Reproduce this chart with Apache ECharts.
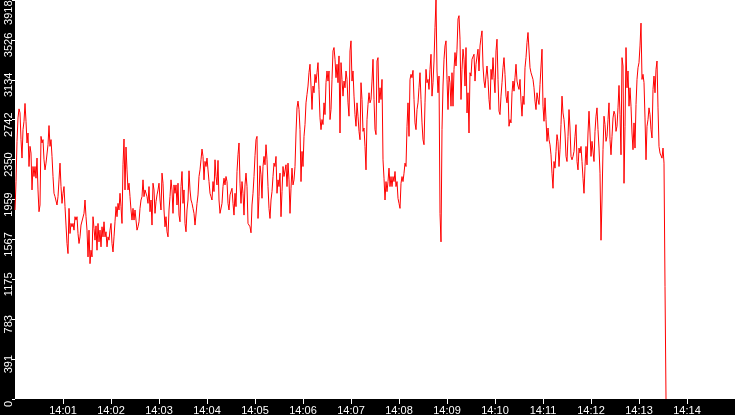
<!DOCTYPE html>
<html>
<head>
<meta charset="utf-8">
<script src="https://cdn.jsdelivr.net/npm/echarts@6/dist/echarts.min.js"></script>
<style>
    html, body { margin: 0; padding: 0; background: #000; }
    #chart { width: 735px; height: 415px; }
</style>
</head>
<body>
<div id="chart"></div>
<script>
// one sample every 1.25 s, starting 14:00:00
const stepSec = 1.25;

// 14:00:00 - 14:01:41
const part1 = [1856,2135,2530,2760,2849,2810,2547,2366,2645,2727,
    2902,2727,2514,2612,2283,2481,2415,2053,2283,2185,
    2283,2168,2366,2053,1839,1905,2579,2514,2547,2349,
    2250,2316,2300,2497,2685,2481,2547,2382,2185,2020,
    1987,1971,1905,1987,2152,2316,2086,1921,2020,2086,
    1889,1708,1527,1428,1872,1625,1724,1691,1724,1658,
    1790,1757,1790,1625,1527,1592,1708,1691,1724,1823,
    1954,1790,1658,1395,1658,1329,1461,1395,1790,1675,
    1560,1700];
// 14:01:42 - 14:03:24
const part2 = [1461,1724,1543,1658,1494,1691,1592,1740,1592,1642,
    1494,1592,1560,1658,1724,1527,1444,1592,1740,1889,
    1790,1921,1856,2020,1889,1724,2300,2553,2053,2474,
    2250,2053,2119,1987,1856,1757,1872,1757,1856,1757,
    1658,1691,1740,1872,1954,1987,2152,1987,2053,2069,
    1987,1921,2086,1839,1954,1708,2119,2053,1823,1938,
    2004,2053,2119,1954,1856,2218,2119,1856,1691,1790,
    1642,1592,1856,1987,2152,2053,1823,2102,2020,2102,
    1905,2119];
// 14:03:25 - 14:05:06
const part3 = [1806,1740,2086,2234,1921,2053,1724,1642,1856,1954,
    2241,2053,1954,1921,1872,1823,1708,1691,1921,2004,
    2185,2250,2349,2454,2382,2152,2333,2283,2366,2250,
    2135,2020,1987,1954,2135,2037,2349,2185,2102,2343,
    1954,1823,1806,1921,2086,2168,2102,2185,2135,1921,
    1856,2004,1987,2069,1921,1806,2020,1889,2234,2398,
    2514,2119,1921,2135,2020,1806,2102,2218,2086,1724,
    1740,1691,1632,1905,2020,2185,2389,2547,2579,1773,
    1987,2290];
// 14:05:07 - 14:06:49
const part4 = [2201,1971,2283,2382,2300,2497,2349,2086,1872,1773,
    1954,2037,2185,2316,2283,2382,2020,2152,2086,2218,
    1790,2037,2283,2185,2201,2300,2086,2316,2152,1823,
    2070,2267,2102,2152,2283,2612,2859,2925,2843,2645,
    2135,2431,2283,2579,2695,2908,2991,3073,3205,3287,
    3073,2843,3073,3007,3188,3106,3205,3303,3040,2761,
    2645,2744,2695,2908,2793,3106,3221,3122,3221,2744,
    2843,3139,3418,3451,3336,3155,3287,3106,3369,2612,
    3303,3139];
// 14:06:50 - 14:08:12
const part5 = [2974,3122,3056,3221,3138,2908,2777,3418,3517,3122,
    3221,2974,2793,2678,2908,2777,2628,2546,3106,2941,
    2628,2661,2480,2250,2744,2892,3007,2908,2941,3122,
    3336,2941,2645,2596,3319,3352,2908,3056,2941,3138,
    2349,2168,1954,2135,2036,2135,2267,2086,2184,2086,
    2184,2135,2234,2086,2135,1970,1921,1872,2118,2184,
    2135,2217,2316,2283,2678,2908];
// 14:08:15 - 14:09:37
const part6 = [2579,3138,3188,3155,3227,2941,2711,2645,2842,2908,
    3056,3204,2941,2711,2546,2497,2908,3237,3106,3138,
    3040,3237,3385,2974,3106,3319,3648,3918,3221,3007,
    3171,1822,1543,2645,3073,3336,3467,3517,3138,2842,
    3171,3106,2875,3204,2875,3237,3402,3270,3435,3731,
    3764,3533,2941,3237,3435,3336,3073,3451,2809,3007,
    2612,3204,3171,3336,3319,3385];
// 14:09:37 - 14:10:59
const part7 = [3122,3287,3270,3435,3221,3467,3550,3615,3270,3122,
    3056,3171,3270,3138,2941,2842,3237,3138,3352,3155,
    3007,3418,3533,3138,2826,2793,2974,3106,3253,3352,
    3188,2974,2908,3023,2678,2744,2711,3007,3122,3023,
    3155,3287,3122,3073,3040,3138,2925,2777,2974,2892,
    3253,3352,3500,3599,3615,3253,3204,3188,3138,3056,
    2925,2842,3007,2941,2892,3089];
// 14:11:00 - 14:12:22
const part8 = [3106,3435,2875,2727,2957,2744,2530,2661,2546,2497,
    2398,2217,2069,2332,2267,2431,2596,2530,2283,2448,
    2694,2974,2809,2744,2612,2382,2332,2579,2842,2661,
    2382,2349,2382,2431,2579,2694,2332,2250,2464,2415,
    2480,2332,2168,2020,2283,2480,2299,2612,2826,2612,
    2382,2530,2513,2332,2628,2777,2859,2645,2464,2217,
    1559,1954,2448,2777,2694,2530];
// 14:12:22 - 14:13:34
const part9 = [2579,2744,2908,2546,2398,2579,2760,2826,2793,2628,
    2678,2859,3079,2793,2398,3352,3270,2118,2678,3451,
    3056,3221,2875,3056,2875,2612,2448,2711,2464,2892,
    3138,3253,3303,3467,3691,3138,3188,3106,2760,2349,
    2678,2744,2859,2793,2645,2563,3040,3171,3007,3237,
    3319,2859,2480,2415,2398,2365,2464,2316,1105,0];

const values = [].concat(part1, part2, part3, part4, part5, part6, part7, part8, part9);

const timeTicks = [60, 120, 180, 240, 300, 360, 420, 480, 540, 600, 660, 720, 780, 840];
const timeLabels = ['14:01', '14:02', '14:03', '14:04', '14:05', '14:06', '14:07',
    '14:08', '14:09', '14:10', '14:11', '14:12', '14:13', '14:14'];
const yLabels = ['0', '391', '783', '1175', '1567', '1959', '2350', '2742', '3134', '3526', '3918'];
const yMax = 3918;
const yStep = 391.8;

const seriesData = values.map((v, i) => [i * stepSec, v]);

const chart = echarts.init(document.getElementById('chart'), null, { renderer: 'canvas' });
chart.setOption({
    backgroundColor: '#000',
    animation: false,
    grid: {
        left: 15, right: 0, top: 0, bottom: 16,
        outerBoundsMode: 'none',
        containLabel: false,
        show: true, backgroundColor: '#fff', borderWidth: 0
    },
    xAxis: {
        type: 'value',
        min: 0,
        max: 900,
        axisLine: { show: false },
        splitLine: { show: false },
        axisTick: {
            customValues: timeTicks,
            length: 5,
            lineStyle: { color: '#fff', width: 1 }
        },
        axisLabel: {
            customValues: timeTicks,
            color: '#fff',
            fontFamily: 'Liberation Sans',
            fontSize: 11,
            margin: 6,
            formatter: (v) => timeLabels[timeTicks.indexOf(v)]
        }
    },
    yAxis: {
        type: 'value',
        min: 0,
        max: yMax,
        interval: yStep,
        axisLine: { show: false },
        splitLine: { show: false },
        axisTick: { length: 3, lineStyle: { color: '#fff', width: 1 } },
        axisLabel: {
            color: '#fff',
            fontFamily: 'Liberation Sans',
            fontSize: 11,
            rotate: 90,
            align: 'center',
            verticalAlign: 'bottom',
            margin: 1,
            padding: [0, 10, 0, 0],
            formatter: (v) => {
                const s = yLabels[Math.round(v / yStep)];
                // top label is pushed down so it stays inside the strip
                return v >= yMax ? s + '     ' : s;
            }
        }
    },
    series: [{
        type: 'line',
        data: seriesData,
        symbol: 'none',
        showSymbol: false,
        silent: true,
        lineStyle: { color: '#ff0000', width: 1 }
    }]
});
</script>
</body>
</html>
